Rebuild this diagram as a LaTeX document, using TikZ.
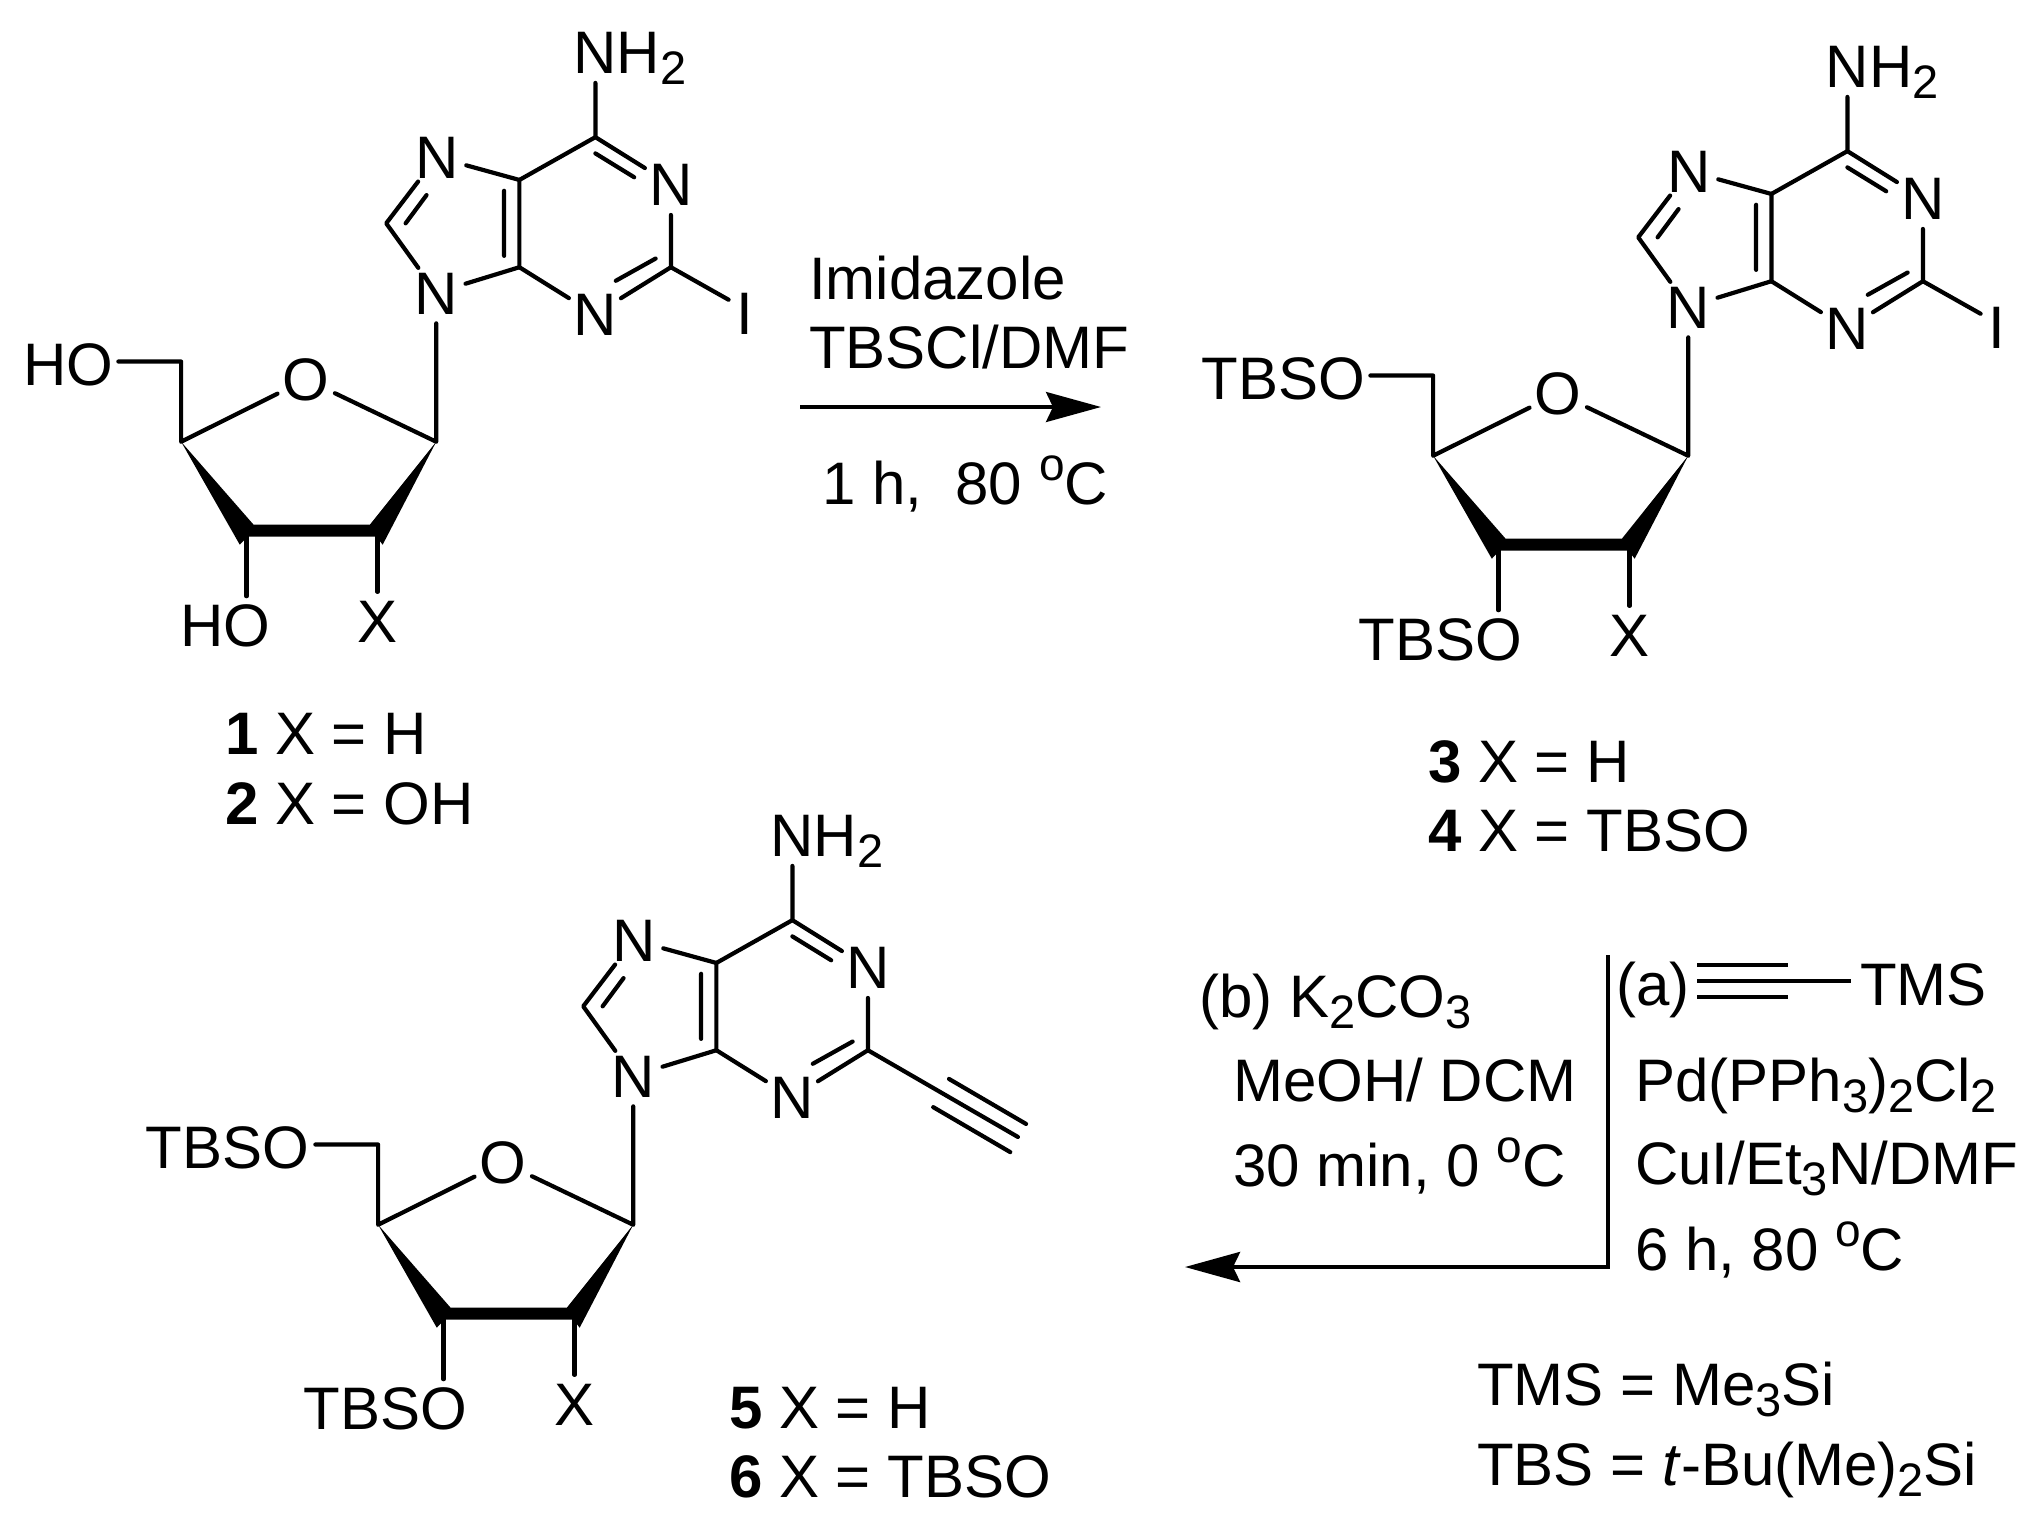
\documentclass[tikz,border=0pt]{standalone}
\usepackage{fontspec}
\setmainfont{Liberation Sans}
\usetikzlibrary{arrows.meta}
\newcommand{\dn}[1]{\raisebox{-11pt}{\fontsize{47}{47}\selectfont #1}}
\newcommand{\dego}{\raisebox{24pt}{\fontsize{46}{46}\selectfont o}}
\newcommand{\purine}{%
  \node[atom] (N1) at (1315,340) {N};
  \node[atom] (N3) at (1166,580) {N};
  \node[atom] (N7) at (856,290) {N};
  \node[atom] (N9) at (855,540) {N};
  \node[atom] (O4) at (600,700) {O};
  \node[lbl,anchor=base west] (NH) at (1124,135) {NH\dn{2}};
  \coordinate (NHe) at (1167,153);
  \coordinate (C6) at (1167,253);
  \coordinate (C5) at (1018,332);
  \coordinate (C4) at (1018,493);
  \coordinate (C2) at (1315,493);
  \coordinate (C8) at (757,412);
  \coordinate (C1p) at (855,815);
  \coordinate (C4p) at (355,815);
  \coordinate (C5p) at (355,667);
  \coordinate (C5e) at (232,667);
  \coordinate (C3p) at (483,985);
  \coordinate (C2p) at (740,985);
  \coordinate (O3e) at (483,1100);
  \coordinate (Xe) at (740,1092);
  \coordinate (a1) at (1167,283); \coordinate (a2) at (1243,327);
  \coordinate (b1) at (1285,477); \coordinate (b2) at (1207,518);
  \coordinate (c1) at (988,472);  \coordinate (c2) at (988,352);
  \coordinate (d1) at (836,360);  \coordinate (d2) at (795,412);
  \draw[bond] (NHe) -- (C6) -- (N1) -- (C2) -- (N3) -- (C4) -- (C5) -- (C6);
  \draw[bond] (a1) -- (a2) (b1) -- (b2) (c1) -- (c2) (d1) -- (d2);
  \draw[bond] (C5) -- (N7) -- (C8) -- (N9) -- (C4);
  \draw[bond] (N9) -- (C1p) -- (O4) -- (C4p) -- (C5p) -- (C5e);
  \draw[bond] (C3p) -- (O3e) (C2p) -- (Xe);
  \fill (C4p) -- (497,968) -- (725,968) -- (C1p) -- (750,1005) -- (738,990) -- (485,990) -- (470,1005) -- cycle;
  \node[lbl,anchor=base] (X) at (740,1186) {X};
}
\tikzset{
  bond/.style={line width=4.2pt,line join=round,line cap=round},
  atom/.style={circle,inner sep=0pt,font=\fontsize{60}{60}\selectfont,text height=43pt,text depth=0pt},
  lbl/.style={inner sep=0pt,font=\fontsize{60}{60}\selectfont},
  txt/.style={inner sep=0pt,anchor=base west,font=\fontsize{60}{60}\selectfont},
  mol/.style={x=0.5102pt,y=-0.542pt},
  px/.style={x=1pt,y=-1pt},
}
\begin{document}
\begin{tikzpicture}[px]
\useasboundingbox (0,0) rectangle (2033,1519);
\fill[white] (0,0) rectangle (2033,1519);
% molecule 1
\begin{scope}[mol,name prefix=a-]
  \purine
  \coordinate (Ie) at (1428,553);
  \draw[bond] (C2) -- (Ie);
  \node[lbl,anchor=base] (I) at (1460,618) {I};
  \node[lbl,anchor=base east] (HO1) at (222,712) {HO};
  \node[lbl,anchor=base east] (HO2) at (530,1192) {HO};
\end{scope}
\node[txt] (t1) at (225,754) {\textbf{1} X = H};
\node[txt] (t2) at (225,824) {\textbf{2} X = OH};
% molecule 3
\begin{scope}[shift={(1252pt,-14pt)},mol,name prefix=b-]
  \purine
  \coordinate (Ie) at (1428,553);
  \draw[bond] (C2) -- (Ie);
  \node[lbl,anchor=base] (I) at (1460,618) {I};
  \node[lbl,anchor=base east] (TB1) at (222,712) {TBSO};
  \node[lbl,anchor=base east] (TB2) at (530,1192) {TBSO};
\end{scope}
\node[txt] (t3) at (1428,782) {\textbf{3} X = H};
\node[txt] (t4) at (1428,851) {\textbf{4} X = TBSO};
% molecule 5
\begin{scope}[shift={(197pt,-783pt)},mol,name prefix=c-]
  \purine
  \coordinate (Y2) at (1609,653);
  \coordinate (Y3) at (1474,546); \coordinate (Y4) at (1625,629);
  \coordinate (Y5) at (1443,598); \coordinate (Y6) at (1594,681);
  \draw[bond] (C2) -- (Y2) (Y3) -- (Y4) (Y5) -- (Y6);
  \node[lbl,anchor=base east] (TB1) at (220,712) {TBSO};
  \node[lbl,anchor=base east] (TB2) at (530,1192) {TBSO};
\end{scope}
\node[txt] (t5) at (729,1428) {\textbf{5} X = H};
\node[txt] (t6) at (729,1497) {\textbf{6} X = TBSO};
% top arrow
\node[txt] (r1) at (809,299) {Imidazole};
\node[txt] (r2) at (809,368) {TBSCl/DMF};
\node[txt] (r3) at (822,504) {1 h,\ \ 80 \dego C};
\coordinate (A1) at (800,407);
\coordinate (A2) at (1101,407);
\draw[line width=3.3pt,-{Stealth[length=55pt,width=30pt,inset=7pt]}] (A1) -- (A2);
% second arrow
\coordinate (B1) at (1608,955);
\coordinate (B2) at (1608,1267);
\coordinate (B3) at (1185,1267);
\draw[line width=4.3pt,line join=miter,-{Stealth[length=55pt,width=30pt,inset=7pt]}] (B1) -- (B2) -- (B3);
\node[txt] (q1) at (1199,1017) {(b) K\dn{2}CO\dn{3}};
\node[txt] (q2) at (1233,1101) {MeOH/ DCM};
\node[txt] (q3) at (1233,1186) {30 min, 0 \dego C};
\node[txt] (p0) at (1616,1005) {(a)};
\coordinate (T1) at (1697,965); \coordinate (T2) at (1788,965);
\coordinate (T3) at (1697,981); \coordinate (T4) at (1851,981);
\coordinate (T5) at (1697,997); \coordinate (T6) at (1788,997);
\draw[line width=3.4pt] (T1) -- (T2) (T3) -- (T4) (T5) -- (T6);
\node[txt] (p1) at (1860,1005) {TMS};
\node[txt] (p2) at (1635,1101) {Pd(PPh\dn{3})\dn{2}Cl\dn{2}};
\node[txt] (p3) at (1635,1184) {CuI/Et\dn{3}N/DMF};
\node[txt] (p4) at (1635,1270) {6 h, 80 \dego C};
\node[txt] (k1) at (1477,1405) {TMS = Me\dn{3}Si};
\node[txt] (k2) at (1477,1485) {TBS = \textit{t}-Bu(Me)\dn{2}Si};
\end{tikzpicture}
\end{document}
